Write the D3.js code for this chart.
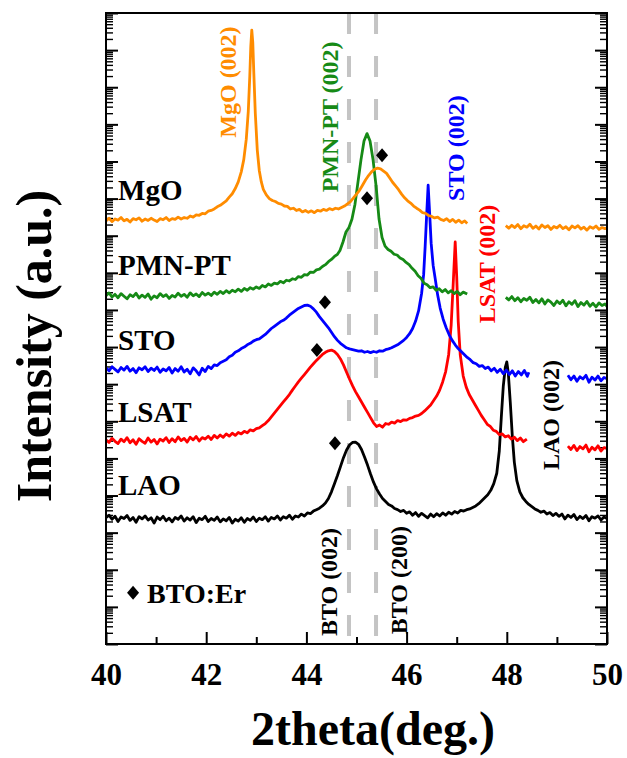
<!DOCTYPE html>
<html>
<head>
<meta charset="utf-8">
<script src="https://cdn.jsdelivr.net/npm/d3@7"></script>
<style>
body { margin: 0; background: #fff; }
svg { display: block; }
text { font-family: "Liberation Serif", "Times New Roman", serif; font-weight: bold; }
</style>
</head>
<body>
<div id="chart"></div>
<script>
// XRD 2theta scans, values are log10(intensity), stacked per substrate
// null marks where the scan is hidden behind a peak label
let mgoData = [[40.00,11.40],[40.06,11.47],[40.12,11.38],[40.18,11.45],[40.24,11.42],[40.30,11.49],[40.36,11.40],[40.42,11.44],[40.48,11.37],[40.54,11.46],[40.60,11.43],[40.66,11.48],[40.72,11.39],[40.78,11.45],[40.84,11.41],[40.90,11.47],[40.96,11.42],[41.02,11.38],[41.08,11.46],[41.14,11.43],[41.20,11.49],[41.26,11.41],[41.32,11.46],[41.38,11.44],[41.44,11.50],[41.50,11.45],[41.56,11.49],[41.62,11.47],[41.68,11.53],[41.74,11.50],[41.80,11.56],[41.86,11.55],[41.92,11.60],[41.98,11.59],[42.04,11.66],[42.10,11.68],[42.16,11.72],[42.22,11.78],[42.28,11.82],[42.34,11.88],[42.40,11.94],[42.46,12.04],[42.52,12.13],[42.58,12.27],[42.64,12.45],[42.70,12.72],[42.75,13.05],[42.80,13.60],[42.84,14.35],[42.87,15.30],[42.89,16.10],[42.91,16.54],[42.93,16.20],[42.95,15.40],[42.98,14.30],[43.02,13.30],[43.06,12.75],[43.10,12.45],[43.14,12.25],[43.20,12.10],[43.26,12.00],[43.32,11.95],[43.38,11.92],[43.44,11.87],[43.50,11.85],[43.56,11.80],[43.62,11.79],[43.68,11.72],[43.74,11.74],[43.80,11.68],[43.86,11.71],[43.92,11.64],[43.98,11.68],[44.04,11.63],[44.10,11.67],[44.16,11.62],[44.22,11.68],[44.28,11.66],[44.34,11.71],[44.40,11.68],[44.46,11.73],[44.52,11.70],[44.58,11.74],[44.64,11.72],[44.70,11.76],[44.76,11.80],[44.82,11.86],[44.88,11.92],[44.94,12.02],[45.00,12.12],[45.06,12.22],[45.12,12.36],[45.18,12.50],[45.24,12.62],[45.30,12.72],[45.36,12.79],[45.42,12.82],[45.48,12.80],[45.54,12.74],[45.60,12.68],[45.66,12.56],[45.72,12.44],[45.78,12.34],[45.84,12.24],[45.90,12.12],[45.96,12.02],[46.02,11.94],[46.08,11.88],[46.14,11.80],[46.20,11.74],[46.26,11.69],[46.32,11.62],[46.38,11.60],[46.44,11.54],[46.50,11.52],[46.56,11.48],[46.62,11.50],[46.68,11.44],[46.74,11.41],[46.80,11.46],[46.86,11.38],[46.92,11.44],[46.98,11.36],[47.04,11.42],[47.10,11.35],[47.16,11.40],[47.21,11.33],[47.60,null],[47.98,11.27],[48.04,11.20],[48.10,11.28],[48.16,11.22],[48.22,11.30],[48.28,11.19],[48.34,11.27],[48.40,11.23],[48.46,11.31],[48.52,11.20],[48.58,11.26],[48.64,11.18],[48.70,11.29],[48.76,11.22],[48.82,11.27],[48.88,11.17],[48.94,11.25],[49.00,11.21],[49.06,11.28],[49.12,11.19],[49.18,11.24],[49.24,11.16],[49.30,11.26],[49.36,11.21],[49.42,11.27],[49.48,11.18],[49.54,11.23],[49.60,11.15],[49.66,11.24],[49.72,11.20],[49.78,11.26],[49.84,11.17],[49.90,11.22],[49.96,11.19],[50.00,11.21]];

let pmnData = [[40.00,9.38],[40.06,9.46],[40.12,9.35],[40.18,9.42],[40.24,9.33],[40.30,9.44],[40.36,9.37],[40.42,9.30],[40.48,9.41],[40.54,9.36],[40.60,9.45],[40.66,9.32],[40.72,9.40],[40.78,9.34],[40.84,9.43],[40.90,9.29],[40.96,9.38],[41.02,9.33],[41.08,9.44],[41.14,9.36],[41.20,9.41],[41.26,9.31],[41.32,9.39],[41.38,9.35],[41.44,9.45],[41.50,9.37],[41.56,9.42],[41.62,9.34],[41.68,9.46],[41.74,9.38],[41.80,9.43],[41.86,9.36],[41.92,9.47],[41.98,9.40],[42.04,9.45],[42.10,9.39],[42.16,9.48],[42.22,9.42],[42.28,9.50],[42.34,9.44],[42.40,9.52],[42.46,9.46],[42.52,9.53],[42.58,9.49],[42.64,9.56],[42.70,9.50],[42.76,9.58],[42.82,9.53],[42.88,9.60],[42.94,9.56],[43.00,9.62],[43.06,9.58],[43.12,9.66],[43.18,9.62],[43.24,9.70],[43.30,9.66],[43.36,9.72],[43.42,9.70],[43.48,9.77],[43.54,9.73],[43.60,9.80],[43.66,9.78],[43.72,9.84],[43.78,9.82],[43.84,9.90],[43.90,9.88],[43.96,9.95],[44.02,9.94],[44.08,10.02],[44.14,10.01],[44.20,10.08],[44.26,10.10],[44.32,10.17],[44.38,10.22],[44.44,10.30],[44.50,10.36],[44.56,10.44],[44.62,10.50],[44.67,10.60],[44.73,10.83],[44.79,11.10],[44.85,11.22],[44.91,11.45],[44.97,11.85],[45.03,12.45],[45.09,13.05],[45.15,13.55],[45.21,13.75],[45.27,13.55],[45.33,13.05],[45.39,12.35],[45.45,11.45],[45.51,10.95],[45.57,10.72],[45.63,10.63],[45.69,10.58],[45.75,10.50],[45.81,10.48],[45.87,10.40],[45.93,10.36],[45.99,10.28],[46.05,10.22],[46.11,10.12],[46.17,10.04],[46.23,9.92],[46.29,9.85],[46.35,9.72],[46.41,9.68],[46.47,9.60],[46.53,9.62],[46.59,9.53],[46.65,9.57],[46.71,9.49],[46.77,9.55],[46.83,9.46],[46.89,9.52],[46.95,9.44],[47.01,9.50],[47.07,9.41],[47.13,9.48],[47.21,9.43],[47.60,null],[47.98,9.34],[48.04,9.27],[48.10,9.36],[48.16,9.25],[48.22,9.33],[48.28,9.22],[48.34,9.31],[48.40,9.26],[48.46,9.34],[48.52,9.20],[48.58,9.28],[48.64,9.19],[48.70,9.30],[48.76,9.16],[48.82,9.27],[48.88,9.21],[48.94,9.12],[49.00,9.24],[49.06,9.17],[49.12,9.26],[49.18,9.11],[49.24,9.22],[49.30,9.15],[49.36,9.25],[49.42,9.09],[49.48,9.20],[49.54,9.13],[49.60,9.23],[49.66,9.10],[49.72,9.18],[49.78,9.08],[49.84,9.19],[49.90,9.12],[49.96,9.16],[50.00,9.10]];

let stoData = [[40.00,7.44],[40.06,7.36],[40.12,7.47],[40.18,7.40],[40.24,7.33],[40.30,7.45],[40.36,7.38],[40.42,7.48],[40.48,7.35],[40.54,7.42],[40.60,7.31],[40.66,7.44],[40.72,7.39],[40.78,7.47],[40.84,7.34],[40.90,7.43],[40.96,7.37],[41.02,7.46],[41.08,7.32],[41.14,7.41],[41.20,7.36],[41.26,7.45],[41.32,7.30],[41.38,7.42],[41.44,7.35],[41.50,7.47],[41.56,7.33],[41.62,7.40],[41.68,7.28],[41.74,7.44],[41.80,7.36],[41.86,7.25],[41.92,7.43],[41.98,7.34],[42.04,7.48],[42.10,7.42],[42.16,7.52],[42.22,7.50],[42.28,7.58],[42.34,7.62],[42.40,7.66],[42.46,7.74],[42.52,7.78],[42.58,7.86],[42.64,7.90],[42.70,7.96],[42.76,8.00],[42.82,8.06],[42.88,8.10],[42.94,8.16],[43.00,8.20],[43.06,8.22],[43.12,8.28],[43.18,8.34],[43.24,8.42],[43.30,8.50],[43.36,8.56],[43.42,8.62],[43.48,8.68],[43.54,8.72],[43.60,8.78],[43.66,8.86],[43.72,8.92],[43.78,8.98],[43.84,9.04],[43.90,9.08],[43.96,9.12],[44.02,9.13],[44.08,9.10],[44.14,9.03],[44.20,8.94],[44.26,8.82],[44.32,8.72],[44.38,8.62],[44.44,8.52],[44.50,8.40],[44.56,8.28],[44.62,8.18],[44.68,8.10],[44.74,8.04],[44.80,7.98],[44.86,7.95],[44.92,7.93],[44.98,7.91],[45.04,7.89],[45.10,7.90],[45.16,7.86],[45.22,7.88],[45.28,7.85],[45.34,7.88],[45.40,7.86],[45.46,7.90],[45.52,7.89],[45.58,7.93],[45.64,7.95],[45.70,7.98],[45.76,8.02],[45.82,8.06],[45.88,8.12],[45.94,8.18],[46.00,8.26],[46.06,8.36],[46.12,8.50],[46.18,8.70],[46.24,8.98],[46.30,9.45],[46.34,9.95],[46.37,10.70],[46.40,11.55],[46.43,12.36],[46.46,11.60],[46.49,10.80],[46.53,10.20],[46.57,9.85],[46.62,9.40],[46.67,9.05],[46.73,8.75],[46.79,8.52],[46.85,8.33],[46.91,8.18],[46.97,8.06],[47.03,7.96],[47.09,7.88],[47.15,7.80],[47.21,7.72],[47.27,7.66],[47.33,7.58],[47.39,7.55],[47.45,7.48],[47.51,7.50],[47.57,7.42],[47.63,7.46],[47.69,7.36],[47.75,7.43],[47.81,7.32],[47.87,7.40],[47.93,7.28],[47.99,7.38],[48.05,7.26],[48.11,7.36],[48.17,7.22],[48.23,7.34],[48.29,7.25],[48.35,7.37],[48.41,7.21],[48.44,7.32],[48.80,null],[49.22,7.24],[49.28,7.12],[49.34,7.22],[49.40,7.08],[49.46,7.20],[49.52,7.14],[49.58,7.24],[49.64,7.05],[49.70,7.19],[49.76,7.11],[49.82,7.22],[49.88,7.09],[49.94,7.18],[50.00,7.15]];

let lsatData = [[40.00,5.50],[40.06,5.43],[40.12,5.54],[40.18,5.46],[40.24,5.40],[40.30,5.52],[40.36,5.45],[40.42,5.56],[40.48,5.42],[40.54,5.50],[40.60,5.38],[40.66,5.53],[40.72,5.46],[40.78,5.41],[40.84,5.55],[40.90,5.44],[40.96,5.51],[41.02,5.39],[41.08,5.52],[41.14,5.47],[41.20,5.56],[41.26,5.43],[41.32,5.53],[41.38,5.45],[41.44,5.58],[41.50,5.48],[41.56,5.54],[41.62,5.44],[41.68,5.57],[41.74,5.50],[41.80,5.59],[41.86,5.47],[41.92,5.56],[41.98,5.52],[42.04,5.60],[42.10,5.51],[42.16,5.62],[42.22,5.55],[42.28,5.63],[42.34,5.57],[42.40,5.66],[42.46,5.60],[42.52,5.68],[42.58,5.62],[42.64,5.70],[42.70,5.66],[42.76,5.73],[42.82,5.69],[42.88,5.77],[42.94,5.74],[43.00,5.80],[43.06,5.82],[43.12,5.88],[43.18,5.94],[43.24,6.02],[43.30,6.12],[43.36,6.22],[43.42,6.32],[43.48,6.42],[43.54,6.52],[43.60,6.62],[43.66,6.72],[43.72,6.84],[43.78,6.95],[43.84,7.06],[43.90,7.16],[43.96,7.26],[44.02,7.36],[44.08,7.46],[44.14,7.55],[44.20,7.64],[44.26,7.72],[44.32,7.80],[44.38,7.86],[44.44,7.90],[44.50,7.92],[44.56,7.88],[44.62,7.80],[44.68,7.68],[44.74,7.52],[44.80,7.33],[44.86,7.14],[44.92,6.96],[44.98,6.80],[45.04,6.66],[45.10,6.52],[45.16,6.38],[45.22,6.24],[45.28,6.10],[45.34,5.96],[45.40,5.86],[45.46,5.90],[45.52,5.84],[45.58,5.94],[45.64,5.92],[45.70,5.98],[45.76,5.95],[45.82,6.02],[45.88,5.99],[45.94,6.04],[46.00,6.03],[46.06,6.08],[46.12,6.10],[46.18,6.14],[46.24,6.16],[46.30,6.21],[46.36,6.28],[46.42,6.36],[46.48,6.44],[46.54,6.56],[46.60,6.68],[46.66,6.84],[46.72,7.06],[46.78,7.34],[46.84,7.80],[46.89,8.60],[46.93,9.70],[46.97,10.83],[47.00,9.90],[47.03,8.70],[47.07,7.80],[47.13,7.22],[47.19,6.92],[47.25,6.72],[47.31,6.58],[47.37,6.44],[47.43,6.30],[47.49,6.16],[47.55,6.04],[47.61,5.92],[47.67,5.86],[47.73,5.76],[47.79,5.73],[47.85,5.64],[47.91,5.66],[47.97,5.58],[48.03,5.61],[48.09,5.52],[48.15,5.57],[48.21,5.48],[48.27,5.55],[48.33,5.45],[48.40,5.52],[48.80,null],[49.22,5.33],[49.28,5.24],[49.34,5.35],[49.40,5.21],[49.46,5.32],[49.52,5.26],[49.58,5.36],[49.64,5.18],[49.70,5.30],[49.76,5.23],[49.82,5.34],[49.88,5.20],[49.94,5.29],[50.00,5.27]];

let laoData = [[40.00,3.40],[40.06,3.47],[40.12,3.36],[40.18,3.44],[40.24,3.30],[40.30,3.42],[40.36,3.38],[40.42,3.46],[40.48,3.33],[40.54,3.41],[40.60,3.28],[40.66,3.43],[40.72,3.37],[40.78,3.45],[40.84,3.34],[40.90,3.40],[40.96,3.26],[41.02,3.42],[41.08,3.35],[41.14,3.44],[41.20,3.32],[41.26,3.39],[41.32,3.29],[41.38,3.41],[41.44,3.36],[41.50,3.45],[41.56,3.31],[41.62,3.40],[41.68,3.34],[41.74,3.43],[41.80,3.27],[41.86,3.39],[41.92,3.35],[41.98,3.44],[42.04,3.30],[42.10,3.38],[42.16,3.33],[42.22,3.42],[42.28,3.29],[42.34,3.37],[42.40,3.32],[42.46,3.41],[42.52,3.26],[42.58,3.36],[42.64,3.31],[42.70,3.40],[42.76,3.28],[42.82,3.38],[42.88,3.33],[42.94,3.42],[43.00,3.30],[43.06,3.39],[43.12,3.35],[43.18,3.43],[43.24,3.31],[43.30,3.41],[43.36,3.37],[43.42,3.45],[43.48,3.34],[43.54,3.43],[43.60,3.39],[43.66,3.47],[43.72,3.36],[43.78,3.45],[43.84,3.42],[43.90,3.50],[43.96,3.45],[44.02,3.53],[44.08,3.51],[44.14,3.58],[44.20,3.62],[44.26,3.66],[44.32,3.72],[44.38,3.80],[44.44,3.92],[44.50,4.10],[44.56,4.32],[44.62,4.54],[44.68,4.78],[44.74,5.02],[44.80,5.22],[44.86,5.36],[44.92,5.43],[44.98,5.44],[45.04,5.38],[45.10,5.24],[45.16,5.04],[45.22,4.82],[45.28,4.58],[45.34,4.36],[45.40,4.18],[45.46,4.04],[45.52,3.92],[45.58,3.84],[45.64,3.76],[45.70,3.72],[45.76,3.65],[45.82,3.62],[45.88,3.57],[45.94,3.60],[46.00,3.52],[46.06,3.56],[46.12,3.47],[46.18,3.54],[46.24,3.44],[46.30,3.52],[46.36,3.46],[46.42,3.40],[46.48,3.50],[46.54,3.43],[46.60,3.51],[46.66,3.45],[46.72,3.53],[46.78,3.47],[46.84,3.55],[46.90,3.50],[46.96,3.57],[47.02,3.53],[47.08,3.60],[47.14,3.58],[47.20,3.62],[47.26,3.64],[47.32,3.68],[47.38,3.72],[47.44,3.78],[47.50,3.86],[47.56,3.94],[47.62,4.02],[47.68,4.14],[47.74,4.32],[47.80,4.60],[47.85,5.20],[47.89,6.10],[47.93,6.95],[47.97,7.45],[48.00,7.60],[48.03,7.30],[48.07,6.50],[48.11,5.60],[48.15,4.90],[48.20,4.40],[48.26,4.10],[48.32,3.94],[48.38,3.84],[48.44,3.76],[48.50,3.70],[48.56,3.64],[48.62,3.60],[48.68,3.55],[48.74,3.58],[48.80,3.50],[48.86,3.54],[48.92,3.46],[48.98,3.52],[49.04,3.44],[49.10,3.50],[49.16,3.37],[49.22,3.47],[49.28,3.41],[49.34,3.49],[49.40,3.35],[49.46,3.44],[49.52,3.38],[49.58,3.46],[49.64,3.32],[49.70,3.43],[49.76,3.39],[49.82,3.45],[49.88,3.34],[49.94,3.42],[50.00,3.38]];

let sampleNames = ["MgO", "PMN-PT", "STO", "LSAT", "LAO"];
let sampleColors = ["#ff8c00", "#168a16", "#0000ff", "#ff0000", "#000000"];
let sampleLabelPos = [[40.24, 11.96], [40.24, 9.94], [40.24, 7.92], [40.24, 5.98], [40.24, 4.01]];

// BTO:Er film peak markers, one per sample
let btoMarks = [[45.51, 13.17], [45.21, 12.01], [44.37, 9.21], [44.21, 7.92], [44.57, 5.41]];

// substrate peak labels
let peakLabels = ["MgO (002)", "PMN-PT (002)", "STO (002)", "LSAT (002)", "LAO (002)"];
let peakLabelPos = [[42.42, 15.14], [44.47, 14.20], [46.97, 13.36], [47.60, 10.24], [48.88, 6.17]];

// bulk BTO reference lines
let btoRefs = [44.85, 45.39];
let btoRefLabels = ["BTO (002)", "BTO (200)"];
let btoRefLabelPos = [[44.45, 1.67], [45.85, 1.72]];

let xTicks = [40, 42, 44, 46, 48, 50];
let xMinorTicks = [41, 43, 45, 47, 49];
let decades = 17;

let svgW = 627, svgH = 758;
let pLeft = 106, pRight = 607, pTop = 13, pBottom = 644;

let svg = d3.select("#chart").append("svg")
    .attr("width", svgW)
    .attr("height", svgH)
    .style("background", "#fff");

let x = d3.scaleLinear().domain([40, 50]).range([pLeft, pRight]);
let y = d3.scaleLinear().domain([0, decades]).range([pBottom, pTop]);
let yLog = d3.scaleLog().domain([1, Math.pow(10, decades)]).range([pBottom, pTop]);

// log ticks: majors at powers of ten, minors at 2..9
let yMajor = [], yMinor = [];
for (let k = 0; k <= decades; k++) {
    yMajor.push(Math.pow(10, k));
    if (k < decades) for (let m = 2; m <= 9; m++) yMinor.push(m * Math.pow(10, k));
}

function tickStyle(g, w) {
    g.select(".domain").remove();
    g.selectAll("line").attr("stroke", "#000").attr("stroke-width", w);
}

svg.append("g").attr("transform", "translate(" + pLeft + ",0)")
    .call(d3.axisLeft(yLog).tickValues(yMajor).tickSize(-12).tickFormat(""))
    .call(g => tickStyle(g, 2));
svg.append("g").attr("transform", "translate(" + pLeft + ",0)")
    .call(d3.axisLeft(yLog).tickValues(yMinor).tickSize(-7).tickFormat(""))
    .call(g => tickStyle(g, 1.4));
svg.append("g").attr("transform", "translate(" + pRight + ",0)")
    .call(d3.axisRight(yLog).tickValues(yMajor).tickSize(-12).tickFormat(""))
    .call(g => tickStyle(g, 2));
svg.append("g").attr("transform", "translate(" + pRight + ",0)")
    .call(d3.axisRight(yLog).tickValues(yMinor).tickSize(-7).tickFormat(""))
    .call(g => tickStyle(g, 1.4));

let xAxis = svg.append("g").attr("transform", "translate(0," + pBottom + ")")
    .call(d3.axisBottom(x).tickValues(xTicks).tickSize(-12).tickPadding(19).tickFormat(d3.format("d")))
    .call(g => tickStyle(g, 2));
xAxis.selectAll("text")
    .attr("fill", "#000")
    .style("font-size", "31px")
    .style("font-family", "'Liberation Serif', 'Times New Roman', serif")
    .style("font-weight", "bold");
svg.append("g").attr("transform", "translate(0," + pBottom + ")")
    .call(d3.axisBottom(x).tickValues(xMinorTicks).tickSize(-7).tickFormat(""))
    .call(g => tickStyle(g, 2));

// dashed BTO reference lines
svg.selectAll(".ref").data(btoRefs).enter().append("line")
    .attr("x1", d => x(d)).attr("x2", d => x(d))
    .attr("y1", pTop).attr("y2", pBottom)
    .attr("stroke", "#c4c4c4")
    .attr("stroke-width", 4)
    .attr("stroke-dasharray", "21,22");

// spectra
let line = d3.line()
    .defined(d => d[1] !== null)
    .x(d => x(d[0]))
    .y(d => y(d[1]));

let allData = [mgoData, pmnData, stoData, lsatData, laoData];
for (let i = allData.length - 1; i >= 0; i--) {
    svg.append("path")
        .datum(allData[i])
        .attr("d", line)
        .attr("fill", "none")
        .attr("stroke", sampleColors[i])
        .attr("stroke-width", 2.8)
        .attr("stroke-linejoin", "round");
}

// frame
svg.append("rect")
    .attr("x", pLeft).attr("y", pTop)
    .attr("width", pRight - pLeft).attr("height", pBottom - pTop)
    .attr("fill", "none").attr("stroke", "#000").attr("stroke-width", 2);

// diamonds
let diamond = "M0,-7L6,0L0,7L-6,0Z";
svg.selectAll(".mark").data(btoMarks).enter().append("path")
    .attr("d", diamond)
    .attr("transform", d => "translate(" + x(d[0]) + "," + y(d[1]) + ")")
    .attr("fill", "#000");

// sample names
for (let i = 0; i < sampleNames.length; i++) {
    svg.append("text")
        .attr("x", x(sampleLabelPos[i][0]))
        .attr("y", y(sampleLabelPos[i][1]))
        .style("font-size", "29px")
        .attr("fill", "#000")
        .text(sampleNames[i]);
}

// rotated peak labels
function rotLabel(txt, pos, color) {
    svg.append("text")
        .attr("transform", "translate(" + x(pos[0]) + "," + y(pos[1]) + ") rotate(-90)")
        .attr("text-anchor", "middle")
        .attr("dy", "0.35em")
        .style("font-size", "24px")
        .attr("fill", color)
        .text(txt);
}
for (let i = 0; i < peakLabels.length; i++) rotLabel(peakLabels[i], peakLabelPos[i], sampleColors[i]);
for (let i = 0; i < btoRefLabels.length; i++) rotLabel(btoRefLabels[i], btoRefLabelPos[i], "#000");

// legend
svg.append("path")
    .attr("d", diamond)
    .attr("transform", "translate(" + x(40.54) + "," + y(1.38) + ")")
    .attr("fill", "#000");
svg.append("text")
    .attr("x", x(40.82))
    .attr("y", y(1.11))
    .style("font-size", "28px")
    .text("BTO:Er");

// axis titles
svg.append("text")
    .attr("x", 373)
    .attr("y", 745)
    .attr("text-anchor", "middle")
    .style("font-size", "48px")
    .text("2theta(deg.)");

svg.append("text")
    .attr("transform", "translate(51,346) rotate(-90)")
    .attr("text-anchor", "middle")
    .style("font-size", "50px")
    .text("Intensity (a.u.)");
</script>
</body>
</html>
